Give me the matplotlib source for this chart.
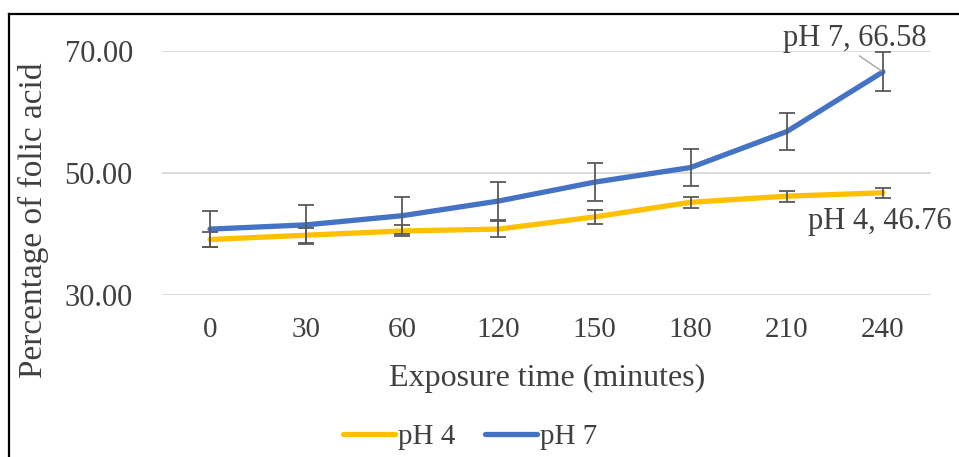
import matplotlib
matplotlib.use("Agg")
import matplotlib.pyplot as plt
from matplotlib.lines import Line2D

# data
times = ["0", "30", "60", "120", "150", "180", "210", "240"]
ph4 = [39.1, 39.8, 40.5, 40.8, 42.8, 45.2, 46.2, 46.76]
ph4_err = [1.3, 1.2, 0.9, 1.3, 1.1, 0.9, 0.9, 0.8]
ph7 = [40.8, 41.5, 43.0, 45.4, 48.5, 50.9, 56.8, 66.58]
ph7_err = [3.0, 3.2, 3.0, 3.1, 3.1, 3.1, 3.1, 3.2]
y_ticks = [30, 50, 70]

plt.rcParams['font.family'] = ['Liberation Serif', 'DejaVu Serif']
txt = '#404040'

fig = plt.figure(figsize=(9.59, 4.57), dpi=100)
ax = fig.add_axes([0.1689, 0.3545, 0.8019, 0.5339])

x = list(range(len(times)))
yellow = '#FFC000'
blue = '#4472C4'

ax.plot(x, ph4, color=yellow, lw=3.8, solid_capstyle='round', zorder=3, label='pH 4')
ax.errorbar(x, ph4, yerr=ph4_err, fmt='none', ecolor='#595959', elinewidth=1.3,
            capsize=6, capthick=1.3, zorder=4, clip_on=False)
ax.plot(x, ph7, color=blue, lw=3.8, solid_capstyle='round', zorder=3, label='pH 7')
ax.errorbar(x, ph7, yerr=ph7_err, fmt='none', ecolor='#595959', elinewidth=1.3,
            capsize=6, capthick=1.3, zorder=4, clip_on=False)

ax.set_xlim(-0.5, len(times) - 0.5)
ax.set_ylim(30, 70)
ax.set_yticks(y_ticks)
ax.set_yticklabels([f"{v:.2f}" for v in y_ticks])
ax.set_xticks(x)
ax.set_xticklabels(times)
ax.tick_params(axis='y', length=0, pad=21, labelsize=22, labelcolor=txt)
ax.tick_params(axis='x', length=0, pad=16, labelsize=21, labelcolor=txt)
ax.grid(axis='y', color='#d9d9d9', lw=1.3)
ax.set_axisbelow(True)
for s in ax.spines.values():
    s.set_visible(False)

# data labels on the last points
ax.annotate(f"pH 7, {ph7[-1]:.2f}", xy=(x[-1], ph7[-1]), xytext=(-20, 24),
            textcoords='offset points', ha='center', va='center', fontsize=22, color=txt,
            arrowprops=dict(arrowstyle='-', color='#a6a6a6', lw=1, relpos=(0.5, 0),
                            shrinkA=0, shrinkB=0), annotation_clip=False)
ax.annotate(f"pH 4, {ph4[-1]:.2f}", xy=(x[-1], ph4[-1]), xytext=(-2, -21),
            textcoords='offset points', ha='center', va='center', fontsize=22, color=txt,
            annotation_clip=False)

fig.text(33 / 959, 1 - 220 / 457, "Percentage of folic acid", rotation=90,
         ha='center', va='center', fontsize=24, color=txt)
fig.text(547 / 959, 1 - 378 / 457, "Exposure time (minutes)",
         ha='center', va='center', fontsize=23, color=txt)

fig.legend(loc='center', bbox_to_anchor=(0.49, 0.044), ncol=2, frameon=False,
           fontsize=21, labelcolor=txt, handlelength=1.8, handletextpad=0.1,
           columnspacing=1.0)

# outer frame (only top and left visible in the crop)
fig.add_artist(Line2D([9 / 959, 1], [1 - 14 / 457] * 2, color='black', lw=1.6,
                      transform=fig.transFigure))
fig.add_artist(Line2D([9 / 959] * 2, [0, 1 - 14 / 457], color='black', lw=1.6,
                      transform=fig.transFigure))

fig.savefig("out.png", dpi=100)
